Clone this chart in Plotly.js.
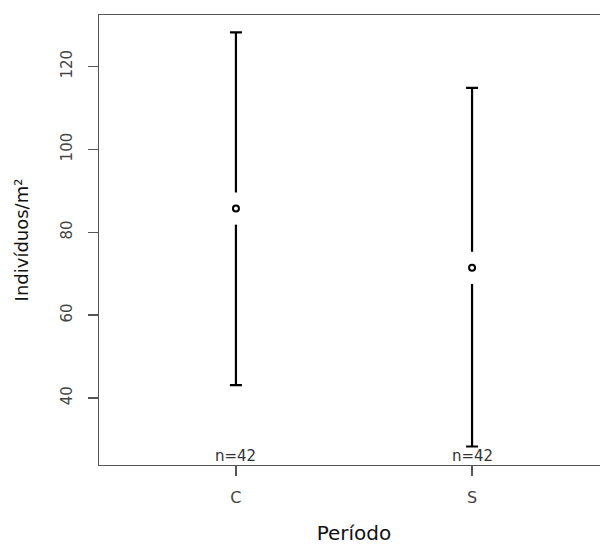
<!DOCTYPE html>
<html>
<head>
<meta charset="utf-8">
<script src="https://cdn.plot.ly/plotly-3.0.1.min.js"></script>
<style>
html, body { margin: 0; padding: 0; overflow: hidden; background: #fff; }
#chart { width: 609px; height: 546px; }
</style>
</head>
<body>
<div id="chart"></div>
<script>
// Data
const periods = ["C", "S"];
const positions = [1, 2];
const means = [85.7, 71.4];
const upper = [128.2, 114.8];
const lower = [43.1, 28.3];
const counts = [42, 42];
const yTicks = [40, 60, 80, 100, 120];

const errPlus = means.map((m, i) => upper[i] - m);
const errMinus = means.map((m, i) => m - lower[i]);

const font = "DejaVu Sans, Arial, sans-serif";

const traces = [
  {
    x: positions, y: means, type: "scatter", mode: "markers",
    marker: { size: 1, color: "rgba(0,0,0,0)" },
    error_y: { type: "data", symmetric: false, array: errPlus, arrayminus: errMinus,
               color: "#000", thickness: 2.2, width: 6 },
    hoverinfo: "skip", showlegend: false
  },
  {
    x: positions, y: means, type: "scatter", mode: "markers",
    marker: { symbol: "line-ns", size: 23, line: { color: "#fff", width: 5 } },
    hoverinfo: "skip", showlegend: false
  },
  {
    x: positions, y: means, type: "scatter", mode: "markers",
    marker: { symbol: "circle", size: 6, color: "#fff", line: { color: "#000", width: 2 } },
    showlegend: false
  }
];

const annotations = positions.map((p, i) => ({
  x: p, xref: "x", y: 0, yref: "paper", yanchor: "bottom", xanchor: "center",
  text: "n=" + counts[i], showarrow: false, yshift: -2,
  font: { family: font, size: 15, color: "#333" }
}));

const layout = {
  width: 609, height: 546,
  margin: { l: 99, r: 0, t: 15, b: 81, pad: 0 },
  paper_bgcolor: "#fff", plot_bgcolor: "#fff",
  font: { family: font, color: "#000" },
  showlegend: false,
  xaxis: {
    range: [0.42, 2.58], tickvals: positions, ticktext: periods,
    showgrid: false, zeroline: false,
    showline: true, mirror: true, linecolor: "#555", linewidth: 1.3,
    ticks: "outside", ticklen: 10, tickcolor: "#555", tickwidth: 1.3,
    ticklabelstandoff: 7,
    tickfont: { family: font, size: 16, color: "#444" },
    title: { text: "Período", font: { family: font, size: 20, color: "#111" }, standoff: 20 }
  },
  yaxis: {
    range: [23.84, 132.4], tickvals: yTicks, ticktext: yTicks.map(String),
    showgrid: false, zeroline: false,
    showline: true, mirror: true, linecolor: "#555", linewidth: 1.3,
    ticks: "outside", ticklen: 10, tickcolor: "#555", tickwidth: 1.3,
    tickangle: -90, ticklabelstandoff: 10,
    tickfont: { family: font, size: 15, color: "#444" },
    title: { text: "Indivíduos/m²", font: { family: font, size: 18, color: "#111" }, standoff: 24 }
  },
  annotations: annotations
};

Plotly.newPlot("chart", traces, layout, { displayModeBar: false, staticPlot: true });
</script>
</body>
</html>
